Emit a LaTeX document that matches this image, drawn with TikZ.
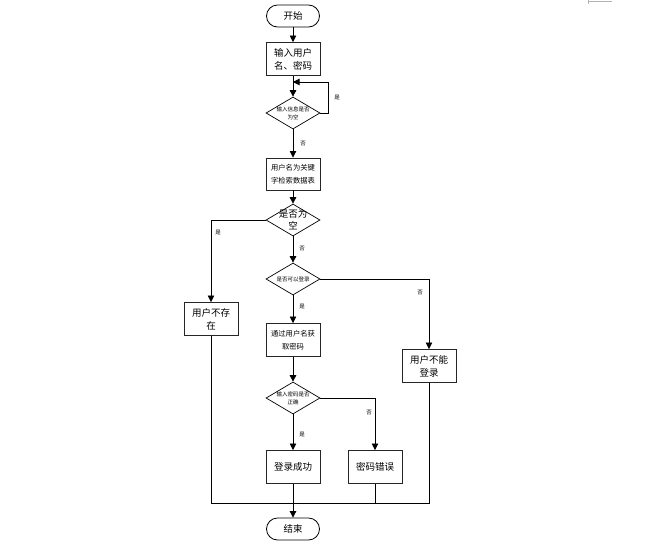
\documentclass[tikz,border=0pt]{standalone}
\usepackage{fontspec}
\setmainfont{Noto Sans CJK SC}
\usetikzlibrary{arrows.meta,shapes.geometric}
\begin{document}
\begin{tikzpicture}[x=1pt,y=-1pt,
  every node/.style={inner sep=0pt,font=\fontsize{9.5}{13}\selectfont},
  box/.style={draw=black!85,line width=0.9pt,minimum width=54pt,minimum height=33pt,align=center,text width=50pt},
  term/.style={draw=black,line width=0.8pt,rounded corners=11pt,minimum width=53pt,minimum height=22pt},
  dec/.style={draw=black,line width=0.7pt,diamond,aspect=1.7,minimum width=54pt,minimum height=32pt,inner sep=0pt},
  dtext/.style={font=\fontsize{5.5}{8}\selectfont,align=center},
  lab/.style={font=\fontsize{5.5}{7}\selectfont},
  conn/.style={line width=0.7pt,black},
  arr/.style={conn,-{Triangle[length=6.5pt,width=6.5pt]}}]
\useasboundingbox (0,0) rectangle (657,547);
% corner mark
\draw[gray!60,line width=0.6pt] (588,1) -- (612,1);
\draw[gray!60,line width=0.6pt] (588,0) -- (588,4);
% nodes
\node[term] (start) at (293,16) {开始};
\node[box] (input) at (293,59) {输入用户\\名、密码};
\node[dec] (d1) at (293,113) {};
\node[dtext] at (293,113) {输入信息是否\\为空};
\node[box,minimum height=32pt] (search) at (293,174) {\fontsize{7.3}{11}\selectfont 用户名为关键\\字检索数据表};
\node[dec] (d2) at (293,220) {};
\node[font=\fontsize{9.5}{12}\selectfont,align=center] at (293,220) {是否为\\空};
\node[dec] (d3) at (293,279) {};
\node[dtext] at (293,279) {是否可以登录};
\node[box] (noexist) at (211,319) {用户不存\\在};
\node[box] (getpwd) at (293,340) {\fontsize{7.3}{11}\selectfont 通过用户名获\\取密码};
\node[dec] (d4) at (293,398) {};
\node[dtext] at (293,398) {输入密码是否\\正确};
\node[box] (cannot) at (429,366) {用户不能\\登录};
\node[box] (ok) at (293,467) {登录成功};
\node[box] (wrong) at (375,467) {密码错误};
\node[term] (end) at (293,529) {结束};
\coordinate (loopA) at (328,113);
\coordinate (loopB) at (328,82);
\coordinate (loopC) at (293,82);
\coordinate (j1) at (211,220);
\coordinate (j2) at (429,279);
\coordinate (j3) at (375,398);
\coordinate (bL) at (211,503);
\coordinate (bR) at (429,503);
\coordinate (bW) at (375,503);
% connectors
\draw[arr] (start) -- (input);
\draw[arr] (input) -- (d1);
\draw[conn] (d1.east) -- (loopA) -- (loopB) -- (loopC);
\draw[arr] (loopB) -- (loopC);
\draw[arr] (d1) -- (search);
\draw[arr] (search) -- (d2);
\draw[arr] (d2.west) -- (j1) -- (noexist.north);
\draw[arr] (d2) -- (d3);
\draw[arr] (d3.east) -- (j2) -- (cannot.north);
\draw[arr] (d3) -- (getpwd);
\draw[arr] (getpwd) -- (d4);
\draw[arr] (d4.east) -- (j3) -- (wrong.north);
\draw[arr] (d4) -- (ok);
\draw[arr] (ok) -- (end);
\draw[conn] (noexist.south) -- (bL) -- (bR) -- (cannot.south);
\draw[conn] (wrong.south) -- (bW);
% labels
\node[lab] at (337,98) {是};
\node[lab] at (303,144) {否};
\node[lab] at (218,233) {是};
\node[lab] at (302,249) {否};
\node[lab] at (420,293) {否};
\node[lab] at (302,307) {是};
\node[lab] at (369,413) {否};
\node[lab] at (302,435) {是};
\end{tikzpicture}
\end{document}
